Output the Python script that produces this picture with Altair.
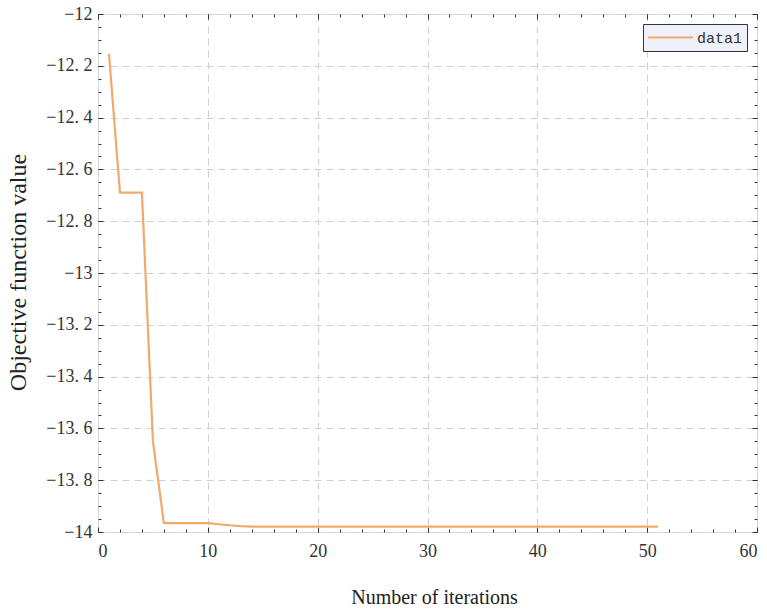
import altair as alt
import pandas as pd

# Convergence history of the optimiser (best objective value per iteration)
iterations = list(range(1, 52))
objective = [
    -12.154, -12.690, -12.690, -12.690, -13.650, -13.966, -13.966, -13.966,
    -13.966, -13.966, -13.970, -13.974, -13.977, -13.979, -13.979, -13.979,
    -13.979, -13.979, -13.979, -13.979, -13.979, -13.979, -13.979, -13.979,
    -13.979, -13.979, -13.979, -13.979, -13.979, -13.979, -13.979, -13.979,
    -13.979, -13.979, -13.979, -13.979, -13.979, -13.979, -13.979, -13.979,
    -13.979, -13.979, -13.979, -13.979, -13.979, -13.979, -13.979, -13.979,
    -13.979, -13.979, -13.979,
]
series_name = ["data1"] * len(iterations)

x_major = [0, 10, 20, 30, 40, 50, 60]
x_minor = list(range(0, 61, 2))
y_major = [-14.0, -13.8, -13.6, -13.4, -13.2, -13.0, -12.8, -12.6, -12.4, -12.2, -12.0]
y_minor = [round(-14 + 0.05 * i, 2) for i in range(41)]

df = pd.DataFrame({"iter": iterations, "obj": objective, "series": series_name})

LINE = "#f2aa6c"
FRAME = "#333333"
SERIF = "Liberation Serif"

x_scale = alt.Scale(domain=[0, 60], nice=False, zero=False)
y_scale = alt.Scale(domain=[-14, -12], nice=False, zero=False)

main = alt.Chart(df).mark_line(strokeWidth=2.2, color=LINE).encode(
    x=alt.X(
        "iter:Q", scale=x_scale,
        axis=alt.Axis(
            values=x_major, title="Number of iterations", orient="bottom",
            domain=False, ticks=False, tickSize=0, labelPadding=10,
            labelFont=SERIF, labelFontSize=18, labelColor="#333333",
            grid=True, gridColor="#cdd0d8", gridDash=[7, 5], gridWidth=1,
            titleFont=SERIF, titleFontSize=20, titleFontWeight="normal",
            titleColor="#222222", titleX=336, titleY=65, titleBaseline="middle",
            titleAlign="center",
        ),
    ),
    y=alt.Y(
        "obj:Q", scale=y_scale,
        axis=alt.Axis(
            values=y_major, title="Objective function value", orient="left",
            domain=False, ticks=False, tickSize=0, labelPadding=6,
            labelExpr="replace(format(datum.value, '~g'), '.', '. ')",
            labelFont=SERIF, labelFontSize=18, labelColor="#333333",
            grid=True, gridColor="#cdd0d8", gridDash=[7, 5], gridWidth=1,
            titleFont=SERIF, titleFontSize=24, titleFontWeight="normal",
            titleColor="#222222", titleX=-80, titleY=258, titleAngle=270,
            titleBaseline="middle", titleAlign="center",
        ),
    ),
    color=alt.Color(
        "series:N",
        scale=alt.Scale(range=[LINE]),
        legend=alt.Legend(
            title=None, orient="top-right", offset=10,
            symbolType="stroke", symbolSize=2025, symbolStrokeWidth=2,
            clipHeight=19, labelOffset=3,
            labelFont="Liberation Mono", labelFontSize=15, labelColor="#333333",
            padding=4, strokeColor=FRAME, fillColor="#eef1f9",
            cornerRadius=0,
        ),
    ),
)


def tick_layer(xvals, yvals, xorient, yorient, size):
    """Invisible layer that only contributes inward-pointing tick marks."""
    common = dict(
        labels=False, domain=False, grid=False, title=None, ticks=True,
        tickSize=size, offset=-size, tickColor=FRAME, tickWidth=1,
    )
    return alt.Chart(df).mark_line(opacity=0).encode(
        x=alt.X("iter:Q", scale=x_scale,
                axis=alt.Axis(values=xvals, orient=xorient, **common)),
        y=alt.Y("obj:Q", scale=y_scale,
                axis=alt.Axis(values=yvals, orient=yorient, **common)),
    )


chart = alt.layer(
    main,
    tick_layer(x_major, y_major, "bottom", "left", 5),
    tick_layer(x_minor, y_minor, "bottom", "left", 3),
    tick_layer(x_major, y_major, "top", "right", 5),
    tick_layer(x_minor, y_minor, "top", "right", 3),
).resolve_axis(x="independent", y="independent").properties(
    width=659,
    height=518,
    autosize=alt.AutoSizeParams(type="none"),
    padding={"left": 98, "top": 14, "right": 10, "bottom": 78},
).configure_view(
    fill="#eef1f9", stroke=FRAME, strokeWidth=1.5,
).configure(background="white")

chart.save("out.html", embed_options={"renderer": "svg", "actions": False})
